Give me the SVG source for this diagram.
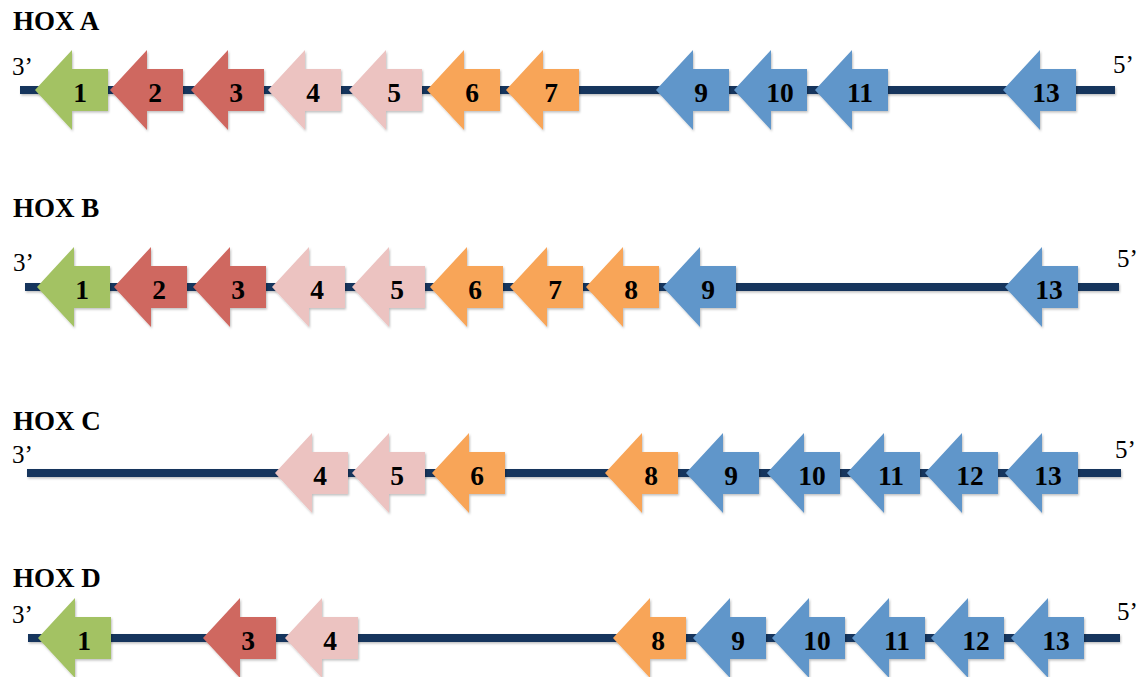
<svg xmlns="http://www.w3.org/2000/svg" xmlns:xlink="http://www.w3.org/1999/xlink" width="1145" height="677" viewBox="0 0 1145 677">
  <style>
    .title { font-family: "Liberation Serif", "Times New Roman", serif; font-weight: bold; font-size: 27px; fill: #000; }
    .end { font-family: "Liberation Serif", "Times New Roman", serif; font-size: 25px; fill: #000; }
    .num { font-family: "Liberation Serif", "Times New Roman", serif; font-weight: bold; font-size: 27.5px; fill: #000; text-anchor: middle; }
    .chrom { fill: #17365d; }
    .g1 { fill: #a3c264; }
    .g2 { fill: #cf6861; }
    .g4 { fill: #ecc3c1; }
    .g6 { fill: #f8a558; }
    .g9 { fill: #6196ca; }
  </style>
  <defs>
    <filter id="soft" x="-10%" y="-20%" width="125%" height="150%">
      <feDropShadow dx="1" dy="1.5" stdDeviation="1.2" flood-color="#000" flood-opacity="0.25"/>
    </filter>
    <!-- left-pointing gene arrow, tip at the origin -->
    <path id="gene" d="M0,0 L37,-40 L37,-21 L73,-21 L73,21 L37,21 L37,40 Z"/>
  </defs>

  <!-- titles and strand ends -->
  <text class="title" x="13" y="30">HOX A</text>
  <text class="title" x="13" y="217">HOX B</text>
  <text class="title" x="13" y="430">HOX C</text>
  <text class="title" x="13" y="587">HOX D</text>

  <text class="end" x="12" y="75">3’</text>
  <text class="end" x="1113" y="73">5’</text>
  <text class="end" x="13" y="271">3’</text>
  <text class="end" x="1117" y="267">5’</text>
  <text class="end" x="12" y="463">3’</text>
  <text class="end" x="1115" y="458">5’</text>
  <text class="end" x="12" y="623">3’</text>
  <text class="end" x="1117" y="620">5’</text>

  <!-- chromosome backbones -->
  <g id="connectors" filter="url(#soft)">
    <rect class="chrom" x="20" y="86" width="1095" height="8"/>
    <rect class="chrom" x="25" y="283" width="1094" height="8"/>
    <rect class="chrom" x="27" y="469" width="1094" height="8"/>
    <rect class="chrom" x="28" y="634" width="1092" height="8"/>
  </g>

  <!-- HOX A cluster -->
  <g id="hoxa-1" transform="translate(35,90)"><use xlink:href="#gene" class="g1" filter="url(#soft)"/><text class="num" x="45" y="12">1</text></g>
  <g id="hoxa-2" transform="translate(110,90)"><use xlink:href="#gene" class="g2" filter="url(#soft)"/><text class="num" x="45" y="12">2</text></g>
  <g id="hoxa-3" transform="translate(191,90)"><use xlink:href="#gene" class="g2" filter="url(#soft)"/><text class="num" x="45" y="12">3</text></g>
  <g id="hoxa-4" transform="translate(268,90)"><use xlink:href="#gene" class="g4" filter="url(#soft)"/><text class="num" x="45" y="12">4</text></g>
  <g id="hoxa-5" transform="translate(349,90)"><use xlink:href="#gene" class="g4" filter="url(#soft)"/><text class="num" x="45" y="12">5</text></g>
  <g id="hoxa-6" transform="translate(427,90)"><use xlink:href="#gene" class="g6" filter="url(#soft)"/><text class="num" x="45" y="12">6</text></g>
  <g id="hoxa-7" transform="translate(506,90)"><use xlink:href="#gene" class="g6" filter="url(#soft)"/><text class="num" x="45" y="12">7</text></g>
  <g id="hoxa-9" transform="translate(656,90)"><use xlink:href="#gene" class="g9" filter="url(#soft)"/><text class="num" x="45" y="12">9</text></g>
  <g id="hoxa-10" transform="translate(734,90)"><use xlink:href="#gene" class="g9" filter="url(#soft)"/><text class="num" x="46" y="12">10</text></g>
  <g id="hoxa-11" transform="translate(815,90)"><use xlink:href="#gene" class="g9" filter="url(#soft)"/><text class="num" x="45" y="12">11</text></g>
  <g id="hoxa-13" transform="translate(1003,90)"><use xlink:href="#gene" class="g9" filter="url(#soft)"/><text class="num" x="43" y="12">13</text></g>

  <!-- HOX B cluster -->
  <g id="hoxb-1" transform="translate(37,287)"><use xlink:href="#gene" class="g1" filter="url(#soft)"/><text class="num" x="45" y="12">1</text></g>
  <g id="hoxb-2" transform="translate(114,287)"><use xlink:href="#gene" class="g2" filter="url(#soft)"/><text class="num" x="45" y="12">2</text></g>
  <g id="hoxb-3" transform="translate(193,287)"><use xlink:href="#gene" class="g2" filter="url(#soft)"/><text class="num" x="45" y="12">3</text></g>
  <g id="hoxb-4" transform="translate(272,287)"><use xlink:href="#gene" class="g4" filter="url(#soft)"/><text class="num" x="45" y="12">4</text></g>
  <g id="hoxb-5" transform="translate(352,287)"><use xlink:href="#gene" class="g4" filter="url(#soft)"/><text class="num" x="45" y="12">5</text></g>
  <g id="hoxb-6" transform="translate(430,287)"><use xlink:href="#gene" class="g6" filter="url(#soft)"/><text class="num" x="45" y="12">6</text></g>
  <g id="hoxb-7" transform="translate(510,287)"><use xlink:href="#gene" class="g6" filter="url(#soft)"/><text class="num" x="45" y="12">7</text></g>
  <g id="hoxb-8" transform="translate(586,287)"><use xlink:href="#gene" class="g6" filter="url(#soft)"/><text class="num" x="45" y="12">8</text></g>
  <g id="hoxb-9" transform="translate(663,287)"><use xlink:href="#gene" class="g9" filter="url(#soft)"/><text class="num" x="45" y="12">9</text></g>
  <g id="hoxb-13" transform="translate(1005,287)"><use xlink:href="#gene" class="g9" filter="url(#soft)"/><text class="num" x="44" y="12">13</text></g>

  <!-- HOX C cluster -->
  <g id="hoxc-4" transform="translate(275,473)"><use xlink:href="#gene" class="g4" filter="url(#soft)"/><text class="num" x="45" y="12">4</text></g>
  <g id="hoxc-5" transform="translate(352,473)"><use xlink:href="#gene" class="g4" filter="url(#soft)"/><text class="num" x="45" y="12">5</text></g>
  <g id="hoxc-6" transform="translate(432,473)"><use xlink:href="#gene" class="g6" filter="url(#soft)"/><text class="num" x="45" y="12">6</text></g>
  <g id="hoxc-8" transform="translate(605,473)"><use xlink:href="#gene" class="g6" filter="url(#soft)"/><text class="num" x="46" y="12">8</text></g>
  <g id="hoxc-9" transform="translate(686,473)"><use xlink:href="#gene" class="g9" filter="url(#soft)"/><text class="num" x="45" y="12">9</text></g>
  <g id="hoxc-10" transform="translate(767,473)"><use xlink:href="#gene" class="g9" filter="url(#soft)"/><text class="num" x="45" y="12">10</text></g>
  <g id="hoxc-11" transform="translate(847,473)"><use xlink:href="#gene" class="g9" filter="url(#soft)"/><text class="num" x="44" y="12">11</text></g>
  <g id="hoxc-12" transform="translate(925,473)"><use xlink:href="#gene" class="g9" filter="url(#soft)"/><text class="num" x="45" y="12">12</text></g>
  <g id="hoxc-13" transform="translate(1005,473)"><use xlink:href="#gene" class="g9" filter="url(#soft)"/><text class="num" x="43" y="12">13</text></g>

  <!-- HOX D cluster -->
  <g id="hoxd-1" transform="translate(38,638)"><use xlink:href="#gene" class="g1" filter="url(#soft)"/><text class="num" x="46" y="12">1</text></g>
  <g id="hoxd-3" transform="translate(203,638)"><use xlink:href="#gene" class="g2" filter="url(#soft)"/><text class="num" x="45" y="12">3</text></g>
  <g id="hoxd-4" transform="translate(285,638)"><use xlink:href="#gene" class="g4" filter="url(#soft)"/><text class="num" x="45" y="12">4</text></g>
  <g id="hoxd-8" transform="translate(613,638)"><use xlink:href="#gene" class="g6" filter="url(#soft)"/><text class="num" x="45" y="12">8</text></g>
  <g id="hoxd-9" transform="translate(693,638)"><use xlink:href="#gene" class="g9" filter="url(#soft)"/><text class="num" x="45" y="12">9</text></g>
  <g id="hoxd-10" transform="translate(772,638)"><use xlink:href="#gene" class="g9" filter="url(#soft)"/><text class="num" x="45" y="12">10</text></g>
  <g id="hoxd-11" transform="translate(852,638)"><use xlink:href="#gene" class="g9" filter="url(#soft)"/><text class="num" x="45" y="12">11</text></g>
  <g id="hoxd-12" transform="translate(931,638)"><use xlink:href="#gene" class="g9" filter="url(#soft)"/><text class="num" x="45" y="12">12</text></g>
  <g id="hoxd-13" transform="translate(1011,638)"><use xlink:href="#gene" class="g9" filter="url(#soft)"/><text class="num" x="45" y="12">13</text></g>
</svg>
